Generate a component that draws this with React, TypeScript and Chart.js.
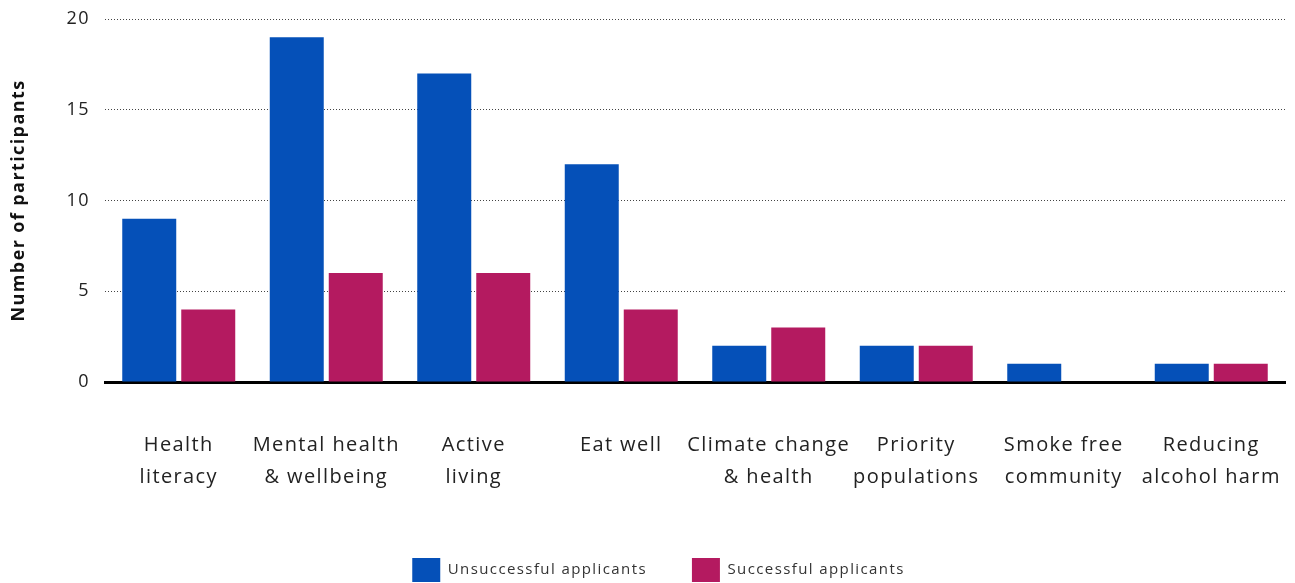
import React, { useEffect, useRef } from "react";
import { Chart, registerables } from "chart.js";

Chart.register(...registerables);

const categories: string[][] = [
  ["Health", "literacy"],
  ["Mental health", "& wellbeing"],
  ["Active", "living"],
  ["Eat well"],
  ["Climate change", "& health"],
  ["Priority", "populations"],
  ["Smoke free", "community"],
  ["Reducing", "alcohol harm"],
];

const unsuccessful = [9, 19, 17, 12, 2, 2, 1, 1];
const successful = [4, 6, 6, 4, 3, 2, 0, 1];

const seriesNames = ["Unsuccessful applicants", "Successful applicants"];
const yTitle = "Number of participants";

const BLUE = "#0550b8";
const MAGENTA = "#b41a60";
const FONT = "'Open Sans', sans-serif";

// Widen all canvas text a little so the labels get their generous spacing.
const letterSpacingPlugin = {
  id: "letterSpacing",
  beforeLayout(chart: any) {
    chart.ctx.letterSpacing = "1.4px";
  },
  afterLayout(chart: any) {
    // nudge the legend row slightly to the right
    if (chart.legend) {
      chart.legend.left += 16;
      chart.legend.right += 16;
    }
  },
  beforeDraw(chart: any) {
    chart.ctx.letterSpacing = "1.4px";
  },
};

export default function App() {
  const canvasRef = useRef<HTMLCanvasElement | null>(null);

  useEffect(() => {
    if (!canvasRef.current) return;
    const chart = new Chart(canvasRef.current, {
      type: "bar",
      data: {
        labels: categories,
        datasets: [
          {
            label: seriesNames[0],
            data: unsuccessful,
            backgroundColor: BLUE,
            categoryPercentage: 0.8,
            barPercentage: 0.915,
          },
          {
            label: seriesNames[1],
            data: successful,
            backgroundColor: MAGENTA,
            categoryPercentage: 0.8,
            barPercentage: 0.915,
          },
        ],
      },
      plugins: [letterSpacingPlugin],
      options: {
        animation: false,
        responsive: true,
        maintainAspectRatio: false,
        layout: { padding: { top: 19, right: 10, left: 0, bottom: 0 } },
        plugins: {
          tooltip: { enabled: false },
          legend: {
            position: "bottom",
            labels: {
              boxWidth: 28,
              boxHeight: 24,
              padding: 45,
              color: "#333",
              font: { family: FONT, size: 15 },
            },
          },
        },
        scales: {
          x: {
            grid: { display: false, drawTicks: false },
            border: { display: true, color: "#000", width: 3 },
            ticks: {
              color: "#222",
              padding: 47,
              font: { family: FONT, size: 20, lineHeight: 1.6 },
              maxRotation: 0,
              autoSkip: false,
            },
            afterFit: (scale: any) => {
              scale.height = 131;
              scale.paddingLeft = 0;
              scale.paddingRight = 0;
            },
          },
          y: {
            min: 0,
            max: 20,
            ticks: {
              stepSize: 5,
              color: "#222",
              padding: 15,
              font: { family: FONT, size: 18 },
            },
            grid: {
              drawTicks: false,
              color: (ctx: any) => (ctx.tick && ctx.tick.value === 0 ? "rgba(0,0,0,0)" : "#444"),
              lineWidth: 1,
            },
            border: { display: false, dash: [1, 2] },
            title: {
              display: true,
              text: yTitle,
              color: "#111",
              padding: { top: 8, bottom: 8 },
              font: { family: FONT, size: 18, weight: "bold" },
            },
            afterFit: (scale: any) => {
              scale.width = 105;
              scale.paddingTop = 0;
              scale.paddingBottom = 0;
            },
          },
        },
      },
    });
    return () => chart.destroy();
  }, []);

  return (
    <div
      style={{
        position: "fixed",
        left: 0,
        top: 0,
        width: 1295,
        height: 592,
        background: "#fff",
      }}
    >
      <canvas ref={canvasRef} />
    </div>
  );
}
